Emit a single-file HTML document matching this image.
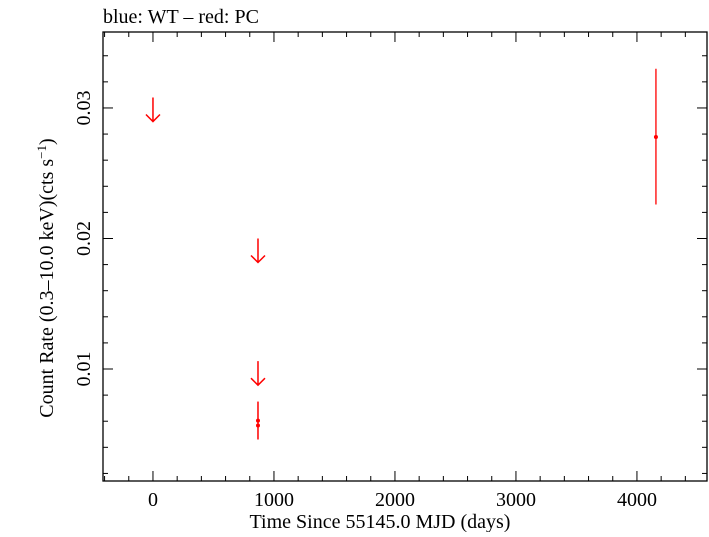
<!DOCTYPE html>
<html><head><meta charset="utf-8"><style>
body{margin:0;background:#fff}
svg text{font-family:"Liberation Serif",serif;fill:#000}
</style></head><body>
<svg id="c" width="709" height="532" xmlns="http://www.w3.org/2000/svg">
<text x="103" y="23" font-size="20">blue: WT – red: PC</text>
<rect x="103" y="32" width="604" height="449" fill="none" stroke="#000" stroke-width="1.3"/>
<g id="ticks"></g>
<g id="marks"></g>
<text x="380" y="528" font-size="20" text-anchor="middle">Time Since 55145.0 MJD (days)</text>
<text transform="translate(53,278) rotate(-90)" font-size="20" text-anchor="middle">Count Rate (0.3–10.0 keV)(cts s<tspan font-size="13" dy="-7">−1</tspan><tspan dy="7">)</tspan></text>
</svg>
<script>
const xTickLabels=[0,1000,2000,3000,4000];
const yTickLabels=[0.01,0.02,0.03];
const ptT=[868,868,4157];
const ptR=[0.00605,0.00567,0.02778];
const ptLo=[0.0046,0.0046,0.0226];
const ptHi=[0.0075,0.0075,0.0330];
const ulT=[0,868,868];
const ulR=[0.0308,0.0200,0.0106];
const X0=103,X1=707,Y0=32,Y1=481,xmin=-413,xmax=4579,ymin=0.00142,ymax=0.03582;
const sx=v=>X0+(v-xmin)/(xmax-xmin)*(X1-X0);
const sy=v=>Y1-(v-ymin)/(ymax-ymin)*(Y1-Y0);
const NS='http://www.w3.org/2000/svg';
function mk(tag,at,parent){const e=document.createElementNS(NS,tag);for(const k in at)e.setAttribute(k,at[k]);parent.appendChild(e);return e;}
const T=document.getElementById('ticks'),M=document.getElementById('marks');
for(let v=-400;v<=4500;v+=200){const x=sx(v);const maj=v%1000===0;const L=maj?10:5;
 let l=mk('line',{x1:x,x2:x,y1:Y1,y2:Y1-L,stroke:'#000'},T);
 
 
 l=mk('line',{x1:x,x2:x,y1:Y0,y2:Y0+L,stroke:'#000'},T);
 
 }
xTickLabels.forEach(v=>{const t=mk('text',{x:sx(v),y:506,'font-size':20,'text-anchor':'middle'},T);t.textContent=v;
 
 });
for(let i=1;i<=17;i++){const v=i*0.002;if(v<ymin||v>ymax)continue;const y=sy(v);const maj=Math.abs(v*100-Math.round(v*100))<1e-6;const L=maj?10:5;
 let l=mk('line',{x1:X0,x2:X0+L,y1:y,y2:y,stroke:'#000'},T);
 
 
 l=mk('line',{x1:X1,x2:X1-L,y1:y,y2:y,stroke:'#000'},T);
 
 }
yTickLabels.forEach(v=>{const t=mk('text',{transform:`translate(90,${sy(v)}) rotate(-90)`,'font-size':20,'text-anchor':'middle'},T);t.textContent=v.toFixed(2);
 
 });
ptT.forEach((t,i)=>{const x=sx(t);
 const e=mk('line',{x1:x,x2:x,y1:sy(ptHi[i]),y2:sy(ptLo[i]),stroke:'#f00','stroke-width':1.3},M);
 
 
 const c=mk('circle',{cx:x,cy:sy(ptR[i]),r:2,fill:'#f00'},M);
 
 });
ulT.forEach((t,i)=>{const x=sx(t),y=sy(ulR[i]);
 const p=mk('path',{d:`M${x},${y}V${y+24}M${x-7},${y+17}L${x},${y+24}L${x+7},${y+17}`,stroke:'#f00','stroke-width':1.5,fill:'none'},M);
 
 });
</script>
</body></html>
